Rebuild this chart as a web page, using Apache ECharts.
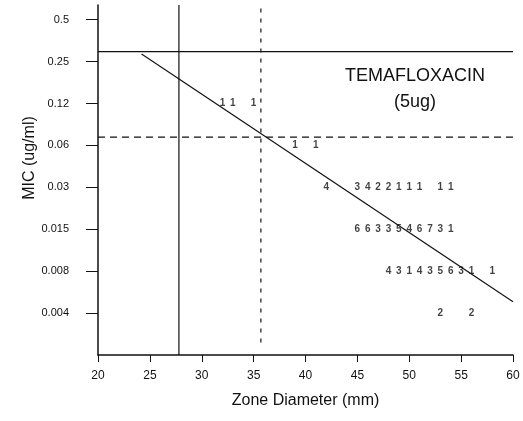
<!DOCTYPE html>
<html>
<head>
<meta charset="utf-8">
<script src="https://cdn.jsdelivr.net/npm/echarts@6/dist/echarts.min.js"></script>
<style>
html, body { margin: 0; padding: 0; background: #fff; }
#chart { width: 523px; height: 421px; }
</style>
</head>
<body>
<div id="chart"></div>
<script>
// MIC dilution levels, bottom (index 0) to top
var micLabels = ['0.002', '0.004', '0.008', '0.015', '0.03', '0.06', '0.12', '0.25', '0.5'];
var xTicks = [20, 25, 30, 35, 40, 45, 50, 55, 60];

// counts per zone diameter for each MIC row
var zones012 = [32, 33, 35];
var counts012 = [1, 1, 1];
var zones006 = [39, 41];
var counts006 = [1, 1];
var zones003 = [42, 45, 46, 47, 48, 49, 50, 51, 53, 54];
var counts003 = [4, 3, 4, 2, 2, 1, 1, 1, 1, 1];
var zones0015 = [45, 46, 47, 48, 49, 50, 51, 52, 53, 54];
var counts0015 = [6, 6, 3, 3, 5, 4, 6, 7, 3, 1];
var zones0008 = [48, 49, 50, 51, 52, 53, 54, 55, 56, 58];
var counts0008 = [4, 3, 1, 4, 3, 5, 6, 3, 1, 1];
var zones0004 = [53, 56];
var counts0004 = [2, 2];

// breakpoints and regression line
var micHighBreak = 7.24;   // solid horizontal
var micLowBreak = 5.2;     // dashed horizontal
var zoneLowBreak = 27.8;   // solid vertical
var zoneHighBreak = 35.7;  // dashed vertical
var regression = [[24.2, 7.18], [60, 1.27]];

var yTop = 8.35;

function row(zones, counts, level) {
  return zones.map(function (z, i) { return [z, level, counts[i]]; });
}
var points = [].concat(
  row(zones012, counts012, 6),
  row(zones006, counts006, 5),
  row(zones003, counts003, 4),
  row(zones0015, counts0015, 3),
  row(zones0008, counts0008, 2),
  row(zones0004, counts0004, 1)
);

var font = '"Liberation Sans", Arial, Helvetica, sans-serif';
var chart = echarts.init(document.getElementById('chart'));
chart.setOption({
  animation: false,
  title: [
    { text: 'TEMAFLOXACIN', left: 410, top: 62, textAlign: 'center',
      textStyle: { fontFamily: font, fontSize: 18, fontWeight: 'normal', color: '#111' } },
    { text: '(5ug)', left: 410, top: 88, textAlign: 'center',
      textStyle: { fontFamily: font, fontSize: 18, fontWeight: 'normal', color: '#111' } }
  ],
  grid: { left: 98, right: 10, top: 5, bottom: 66 },
  xAxis: {
    type: 'value', min: 20, max: 60, interval: 5,
    name: 'Zone Diameter (mm)', nameLocation: 'middle', nameGap: 38,
    nameMoveOverlap: false,
    nameTextStyle: { fontFamily: font, fontSize: 16, color: '#111' },
    axisLine: { lineStyle: { color: '#111', width: 1.5 } },
    axisTick: { inside: false, length: 7, lineStyle: { color: '#111' } },
    axisLabel: { margin: 15, fontFamily: font, fontSize: 12, color: '#111' },
    splitLine: { show: false }
  },
  yAxis: {
    type: 'value', min: 0, max: yTop,
    name: 'MIC (ug/ml)', nameLocation: 'middle', nameGap: 60,
    nameMoveOverlap: false,
    nameTextStyle: { fontFamily: font, fontSize: 16, color: '#111', padding: [0, 0, 0, 44] },
    axisLine: { lineStyle: { color: '#111', width: 1.5 } },
    axisTick: { length: 12, customValues: [1, 2, 3, 4, 5, 6, 7, 8], lineStyle: { color: '#111' } },
    axisLabel: {
      margin: 29, fontFamily: font, fontSize: 11, color: '#111',
      customValues: [1, 2, 3, 4, 5, 6, 7, 8],
      formatter: function (v) { return micLabels[Math.round(v)] || ''; }
    },
    splitLine: { show: false }
  },
  series: [
    { type: 'line', data: [[20, micHighBreak], [60, micHighBreak]], symbol: 'none',
      lineStyle: { color: '#111', width: 1.2 } },
    { type: 'line', data: [[20, micLowBreak], [60, micLowBreak]], symbol: 'none',
      lineStyle: { color: '#111', width: 1.2, type: [7, 5] } },
    { type: 'line', data: [[zoneLowBreak, 0], [zoneLowBreak, yTop]], symbol: 'none',
      lineStyle: { color: '#111', width: 1.2 } },
    { type: 'line', data: [[zoneHighBreak, 0.3], [zoneHighBreak, yTop]], symbol: 'none',
      lineStyle: { color: '#111', width: 1.2, type: [4, 6] } },
    { type: 'line', data: regression, symbol: 'none',
      lineStyle: { color: '#111', width: 1.2 } },
    {
      type: 'scatter', data: points, symbolSize: 1,
      itemStyle: { color: 'rgba(0,0,0,0)' },
      label: {
        show: true, position: 'inside',
        fontFamily: font, fontSize: 10, fontWeight: 'bold', color: '#111',
        formatter: function (p) { return p.value[2]; }
      }
    }
  ]
});
</script>
</body>
</html>
